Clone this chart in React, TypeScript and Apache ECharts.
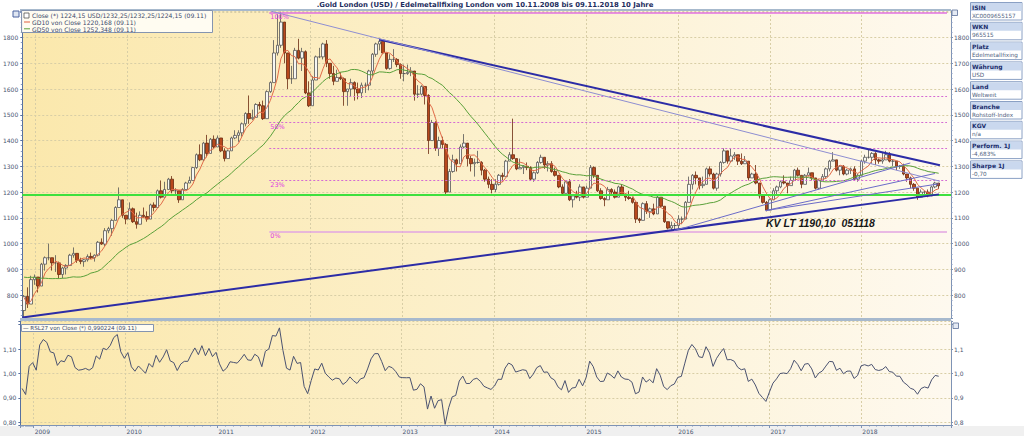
import React, { useEffect, useRef } from 'react';
import * as echarts from 'echarts';

// ---------- data (biweekly candles, London fixing, USD) ----------
const seedCloses = [800, 790, 800, 835, 890, 925, 905, 945, 975, 935, 915, 885, 870, 905, 885, 905, 960, 925, 860, 825, 765, 875, 900, 790, 730, 740];
const firstOpen = 740;

const closes = [
  795, 765, 860, 870,
  835, 920, 945, 945, 925, 925, 880, 905, 915, 955, 962, 935, 930, 937, 950, 945, 955, 1005, 998, 1050, 1058, 1090, 1140, 1170, 1110, 1095,
  1135, 1085, 1075, 1110, 1105, 1095, 1150, 1140, 1205, 1180, 1210, 1250, 1205, 1205, 1170, 1210, 1235, 1245, 1295, 1345, 1325, 1390, 1350, 1405, 1375, 1410,
  1360, 1330, 1360, 1410, 1420, 1430, 1465, 1505, 1485, 1490, 1540, 1535, 1485, 1590, 1625, 1740, 1770, 1860, 1740, 1640, 1640, 1750, 1720, 1745, 1585, 1535,
  1635, 1725, 1725, 1775, 1700, 1660, 1630, 1645, 1640, 1590, 1600, 1625, 1600, 1585, 1615, 1615, 1670, 1735, 1775, 1785, 1740, 1680, 1715, 1715, 1695, 1660,
  1660, 1665, 1670, 1580, 1580, 1610, 1575, 1400, 1470, 1370, 1400, 1385, 1200, 1280, 1325, 1310, 1375, 1390, 1330, 1310, 1315, 1315, 1285, 1250, 1230, 1210,
  1230, 1265, 1260, 1320, 1345, 1330, 1290, 1295, 1300, 1295, 1250, 1275, 1315, 1335, 1305, 1310, 1280, 1265, 1220, 1195, 1240, 1170, 1185, 1180, 1220, 1180,
  1215, 1295, 1265, 1205, 1175, 1170, 1210, 1200, 1180, 1220, 1190, 1180, 1175, 1160, 1095, 1090, 1155, 1125, 1135, 1115, 1180, 1145, 1085, 1060, 1070, 1070,
  1095, 1095, 1160, 1230, 1265, 1255, 1225, 1230, 1290, 1270, 1215, 1270, 1315, 1360, 1320, 1340, 1345, 1320, 1310, 1320, 1255, 1270, 1235, 1185, 1160, 1130,
  1170, 1205, 1220, 1240, 1235, 1225, 1245, 1285, 1265, 1230, 1265, 1275, 1255, 1215, 1245, 1260, 1290, 1320, 1325, 1285, 1300, 1270, 1285, 1290, 1250, 1265,
  1320, 1335, 1335, 1350, 1325, 1320, 1325, 1345, 1320, 1320, 1300, 1300, 1270, 1255, 1230, 1215, 1180, 1200, 1200, 1185, 1220, 1235, 1224.15,
];

const highs = [
  800, 830, 875, 880,
  870, 925, 950, 1000, 945, 955, 930, 910, 920, 960, 985, 960, 945, 940, 958, 965, 958, 1010, 1020, 1060, 1065, 1095, 1145, 1218, 1165, 1110,
  1160, 1140, 1120, 1125, 1140, 1125, 1155, 1160, 1210, 1245, 1240, 1255, 1262, 1215, 1200, 1215, 1240, 1260, 1298, 1350, 1385, 1395, 1422, 1410, 1420, 1420,
  1410, 1370, 1365, 1415, 1440, 1440, 1470, 1510, 1575, 1520, 1545, 1550, 1555, 1595, 1630, 1790, 1890, 1900, 1860, 1680, 1690, 1760, 1795, 1760, 1750, 1630,
  1650, 1730, 1760, 1780, 1790, 1700, 1690, 1675, 1665, 1645, 1600, 1640, 1630, 1625, 1625, 1625, 1675, 1740, 1780, 1795, 1780, 1730, 1735, 1755, 1720, 1700,
  1695, 1695, 1685, 1670, 1615, 1615, 1610, 1580, 1480, 1475, 1415, 1415, 1390, 1290, 1345, 1330, 1385, 1425, 1385, 1340, 1330, 1360, 1320, 1290, 1260, 1250,
  1250, 1270, 1275, 1325, 1355, 1485, 1330, 1330, 1305, 1315, 1300, 1280, 1320, 1345, 1330, 1320, 1320, 1295, 1260, 1230, 1245, 1250, 1190, 1205, 1230, 1220,
  1225, 1305, 1300, 1245, 1215, 1180, 1220, 1215, 1210, 1225, 1230, 1195, 1205, 1180, 1160, 1100, 1160, 1165, 1140, 1155, 1185, 1180, 1140, 1085, 1085, 1080,
  1110, 1105, 1165, 1260, 1270, 1280, 1255, 1260, 1295, 1300, 1275, 1275, 1320, 1370, 1360, 1370, 1355, 1345, 1350, 1340, 1320, 1275, 1305, 1230, 1190, 1165,
  1175, 1215, 1225, 1245, 1265, 1235, 1260, 1290, 1295, 1260, 1270, 1295, 1275, 1255, 1250, 1270, 1295, 1325, 1355, 1320, 1305, 1305, 1290, 1295, 1300, 1270,
  1325, 1345, 1365, 1355, 1355, 1330, 1355, 1360, 1355, 1325, 1320, 1305, 1310, 1270, 1260, 1235, 1215, 1210, 1205, 1210, 1225, 1240, 1235,
];

const lows = [
  712, 750, 770, 840,
  810, 840, 895, 935, 895, 890, 865, 865, 880, 915, 945, 925, 920, 910, 930, 940, 930, 950, 995, 990, 1040, 1030, 1095, 1140, 1100, 1075,
  1100, 1080, 1058, 1090, 1100, 1085, 1105, 1125, 1145, 1175, 1185, 1215, 1195, 1190, 1158, 1180, 1210, 1235, 1245, 1290, 1320, 1320, 1335, 1350, 1370, 1375,
  1355, 1319, 1330, 1360, 1405, 1395, 1415, 1455, 1465, 1480, 1495, 1520, 1480, 1490, 1585, 1630, 1730, 1760, 1700, 1600, 1620, 1640, 1715, 1670, 1580, 1530,
  1590, 1640, 1720, 1715, 1685, 1640, 1615, 1630, 1635, 1535, 1535, 1570, 1555, 1560, 1565, 1585, 1595, 1650, 1725, 1750, 1735, 1675, 1675, 1705, 1685, 1640,
  1630, 1655, 1650, 1555, 1565, 1575, 1540, 1348, 1400, 1360, 1340, 1370, 1190, 1210, 1275, 1280, 1310, 1370, 1300, 1280, 1260, 1310, 1265, 1240, 1215, 1195,
  1200, 1225, 1240, 1265, 1325, 1325, 1285, 1290, 1270, 1285, 1245, 1240, 1270, 1310, 1290, 1280, 1275, 1260, 1215, 1190, 1195, 1165, 1140, 1175, 1165, 1175,
  1180, 1220, 1255, 1200, 1170, 1145, 1175, 1185, 1175, 1180, 1185, 1165, 1170, 1155, 1080, 1080, 1090, 1115, 1100, 1110, 1120, 1140, 1080, 1055, 1050, 1050,
  1060, 1075, 1100, 1160, 1210, 1230, 1210, 1215, 1230, 1260, 1210, 1205, 1260, 1310, 1310, 1315, 1325, 1305, 1305, 1310, 1245, 1255, 1230, 1175, 1155, 1125,
  1130, 1170, 1185, 1215, 1230, 1195, 1225, 1245, 1260, 1215, 1230, 1260, 1245, 1210, 1210, 1245, 1255, 1280, 1320, 1280, 1265, 1265, 1265, 1270, 1245, 1240,
  1265, 1310, 1330, 1310, 1305, 1310, 1310, 1325, 1315, 1300, 1285, 1290, 1265, 1240, 1215, 1205, 1170, 1180, 1190, 1180, 1185, 1215, 1212,
];

// Fibonacci retracement levels (0% .. 100%)
const fibLevels = [1045, 1246, 1370, 1471, 1571, 1897];
const fibLabels = ['0%', '23%', '', '50%', '', '100%'];
const fibFrom = '2011-07-20';
const fibTo = '2018-12-07';

const supportLevel = 1190.1;

// trend lines: start / end [date, price]
const trendFrom: [string, number][] = [
  ['2008-11-09', 713], ['2012-09-29', 1792], ['2011-07-28', 1902],
  ['2015-12-17', 1050], ['2016-12-15', 1128], ['2016-12-15', 1128],
];
const trendTo: [string, number][] = [
  ['2018-11-05', 1191], ['2018-11-09', 1304], ['2018-11-09', 1242],
  ['2018-07-14', 1313], ['2018-10-20', 1272], ['2018-11-05', 1232],
];
const trendMajor = [true, true, false, false, false, false];

const title = '.Gold London (USD) / Edelmetallfixing London vom 10.11.2008 bis 09.11.2018 10 Jahre';
const legendTexts = [
  'Close (*) 1224,15 USD/1232,25/1232,25/1224,15 (09.11)',
  'GD10 von Close 1220,168 (09.11)',
  'GD50 von Close 1252,348 (09.11)',
];
const rslLegend = '— RSL27 von Close (*) 0,990224 (09.11)';
const annotation = 'KV LT 1190,10  051118';
const infoHeaders = ['ISIN', 'WKN', 'Platz', 'Währung', 'Land', 'Branche', 'KGV', 'Perform. 1J', 'Sharpe 1J'];
const infoValues = ['XC0009655157', '965515', 'Edelmetallfixing', 'USD', 'Weltweit', 'Rohstoff-Index', 'n/a', '-4,683%', '-0,70'];

// ---------- helpers ----------
const DAY = 86400000;
const d = (s: string) => {
  const [y, m, dd] = s.split('-').map(Number);
  return new Date(y, m - 1, dd).getTime();
};
const startT = new Date(2008, 10, 10).getTime();
const candleTime = (k: number) => startT + (14 * k + 6) * DAY;
const xMin = new Date(2008, 10, 9).getTime();
const xMax = new Date(2018, 11, 23).getTime();

const allCloses = seedCloses.concat(closes);
function sma(n: number) {
  return closes.map((_, k) => {
    const end = k + seedCloses.length;
    let s = 0;
    for (let j = end - n + 1; j <= end; j++) s += allCloses[j];
    return s / n;
  });
}

const FONT = 'DejaVu Sans';

export default function App() {
  const ref = useRef<HTMLDivElement>(null);
  useEffect(() => {
    if (!ref.current) return;
    const chart = echarts.init(ref.current, undefined, { renderer: 'svg' });

    const candles = closes.map((c, k) => {
      const o = k === 0 ? firstOpen : closes[k - 1];
      return [candleTime(k), o, c, Math.min(lows[k], o, c), Math.max(highs[k], o, c)];
    });
    const gd10 = sma(5);
    const gd50 = sma(25);
    const sma27 = sma(14);
    const rsl = closes.map((c, k) => [candleTime(k), c / sma27[k]]);

    const fibLines = fibLevels.map((v, i) => {
      const solid = i === 0 || i === fibLevels.length - 1;
      return [
        {
          coord: [d(fibFrom), v],
          lineStyle: {
            color: i === 0 ? '#e2a4e2' : solid ? '#e070e0' : '#d46ad4',
            width: solid ? 1.5 : 1,
            type: solid ? 'solid' : [2, 2],
          },
          label: {
            show: fibLabels[i] !== '',
            formatter: fibLabels[i],
            position: 'insideStartBottom',
            distance: 1,
            color: '#e040e0',
            fontSize: 6.5,
            fontFamily: FONT,
          },
        },
        { coord: [d(fibTo), v] },
      ];
    });
    const trendLines = trendFrom.map((f, i) => [
      {
        coord: [d(f[0]), f[1]],
        lineStyle: {
          color: trendMajor[i] ? '#2c2ca6' : i === 2 ? '#8e8ed2' : '#6b6bc8',
          width: trendMajor[i] ? 2 : 1,
          type: 'solid',
        },
      },
      { coord: [d(trendTo[i][0]), trendTo[i][1]] },
    ]);

    const axisLabelColor = '#4a5670';
    const gridBg = new echarts.graphic.LinearGradient(0, 0, 1, 0, [
      { offset: 0, color: '#fbe8ac' },
      { offset: 0.5, color: '#fcf0cc' },
      { offset: 1, color: '#fef9ef' },
    ]);
    const yearFmt = (v: number) => {
      const dt = new Date(v);
      return dt.getMonth() === 0 && dt.getDate() === 1 ? String(dt.getFullYear()) : '';
    };
    const splitDash = { show: true, lineStyle: { type: [2, 2], color: '#d8cea6', width: 1 } };

    const g: any[] = [];
    g.push({ type: 'rect', shape: { x: 20, y: 9, width: 931, height: 2 }, style: { fill: '#a7b9cd' }, z: 100 });
    g.push({ type: 'rect', shape: { x: 20, y: 318, width: 931, height: 3 }, style: { fill: '#a7b9cd' }, z: 100 });
    g.push({
      type: 'text', x: 485, y: 5, z: 100,
      style: { text: title, fontSize: 6.9, fontWeight: 'bold', fontFamily: FONT, fill: '#1d2d5e', align: 'center', verticalAlign: 'middle', textAlign: 'center', textVerticalAlign: 'middle' },
    });
    // legend box
    g.push({ type: 'rect', shape: { x: 13, y: 11, width: 6, height: 6 }, style: { fill: '#dfe6f2', stroke: '#4a62a0', lineWidth: 1 }, z: 100 });
    g.push({ type: 'rect', shape: { x: 21.5, y: 10.5, width: 191, height: 22 }, style: { fill: 'rgba(255,253,246,0.92)', stroke: '#8494b0', lineWidth: 1 }, z: 100 });
    g.push({ type: 'rect', shape: { x: 24, y: 13, width: 5, height: 5 }, style: { fill: '#ffffff', stroke: '#555', lineWidth: 0.8 }, z: 101 });
    g.push({ type: 'line', shape: { x1: 24, y1: 22, x2: 30, y2: 22 }, style: { stroke: '#e06040', lineWidth: 1 }, z: 101 });
    g.push({ type: 'line', shape: { x1: 24, y1: 28.8, x2: 30, y2: 28.8 }, style: { stroke: '#5aa03a', lineWidth: 1 }, z: 101 });
    legendTexts.forEach((t, i) => {
      g.push({
        type: 'text', x: 32, y: 15.4 + i * 6.8, z: 101,
        style: { text: t, fontSize: 6.1, fontFamily: FONT, fill: '#3b4a6b', align: 'left', verticalAlign: 'middle', textAlign: 'left', textVerticalAlign: 'middle' },
      });
    });
    // rsl legend
    g.push({ type: 'rect', shape: { x: 21.5, y: 324.5, width: 132, height: 7 }, style: { fill: 'rgba(255,253,246,0.92)', stroke: '#8494b0', lineWidth: 1 }, z: 100 });
    g.push({
      type: 'text', x: 23, y: 328, z: 101,
      style: { text: rslLegend, fontSize: 5.6, fontFamily: FONT, fill: '#3b4a6b', align: 'left', verticalAlign: 'middle', textAlign: 'left', textVerticalAlign: 'middle' },
    });
    // small panel icons
    g.push({ type: 'rect', shape: { x: 952, y: 10, width: 5.5, height: 5.5 }, style: { fill: '#e4eaf4', stroke: '#5a6e98', lineWidth: 0.8 }, z: 100 });
    g.push({ type: 'rect', shape: { x: 953, y: 323, width: 5.5, height: 5.5 }, style: { fill: '#e4eaf4', stroke: '#5a6e98', lineWidth: 0.8 }, z: 100 });
    // annotation
    g.push({
      type: 'text', x: 766, y: 223, z: 100,
      style: { text: annotation, fontSize: 10.5, fontWeight: 'bold', fontStyle: 'italic', fontFamily: 'Liberation Sans', fill: '#161616', align: 'left', verticalAlign: 'middle', textAlign: 'left', textVerticalAlign: 'middle' },
    });
    // info boxes
    infoHeaders.forEach((h, i) => {
      const top = 2.5 + 19.8 * i;
      g.push({ type: 'rect', shape: { x: 970.5, y: top, width: 51.5, height: 17.5 }, style: { fill: '#ffffff', stroke: '#8aa0c4', lineWidth: 1 }, z: 100 });
      g.push({ type: 'rect', shape: { x: 971, y: top + 0.5, width: 50.5, height: 8 }, style: { fill: '#cad8ee' }, z: 100 });
      g.push({
        type: 'text', x: 972, y: top + 4.5, z: 101,
        style: { text: h, fontSize: 6, fontWeight: 'bold', fontFamily: FONT, fill: '#1c2f6c', align: 'left', verticalAlign: 'middle', textAlign: 'left', textVerticalAlign: 'middle' },
      });
      g.push({
        type: 'text', x: 972, y: top + 13, z: 101,
        style: { text: infoValues[i], fontSize: 5.7, fontFamily: FONT, fill: '#4e5e7e', align: 'left', verticalAlign: 'middle', textAlign: 'left', textVerticalAlign: 'middle' },
      });
    });

    const option: any = {
      animation: false,
      textStyle: { fontFamily: FONT },
      grid: [
        { left: 20, top: 11, width: 931, height: 307, show: true, backgroundColor: gridBg, borderWidth: 0 },
        { left: 20, top: 321, width: 931, height: 104, show: true, backgroundColor: gridBg, borderWidth: 0 },
      ],
      xAxis: [
        {
          type: 'time', gridIndex: 0, min: xMin, max: xMax, splitNumber: 10, minInterval: 360 * DAY,
          axisLabel: { show: false }, axisTick: { show: false }, axisLine: { show: false },
          splitLine: splitDash,
        },
        {
          type: 'time', gridIndex: 1, min: xMin, max: xMax, splitNumber: 10, minInterval: 360 * DAY,
          axisLabel: { formatter: yearFmt, fontSize: 6, color: axisLabelColor, align: 'left', margin: 3, padding: [0, 0, 0, 1], fontFamily: FONT },
          axisTick: { show: true, length: 3, lineStyle: { color: '#7e93b5' } },
          minorTick: { show: true, splitNumber: 12, length: 1.5, lineStyle: { color: '#7e93b5' } },
          axisLine: { show: true, lineStyle: { color: '#7e93b5' } },
          splitLine: splitDash,
        },
      ],
      yAxis: [
        {
          type: 'value', gridIndex: 0, min: 711, max: 1903, splitNumber: 12, position: 'left',
          axisLine: { show: true, lineStyle: { color: '#5670a0' } },
          axisTick: { show: true, length: 2, lineStyle: { color: '#5670a0' } },
          minorTick: { show: true, splitNumber: 5, length: 1.5, lineStyle: { color: '#8a9cc0' } },
          splitLine: splitDash,
          axisLabel: { fontSize: 6, color: axisLabelColor, margin: 4, fontFamily: FONT, formatter: (v: number) => (Math.abs(v % 100) < 0.01 && v < 1850 ? String(v) : '') },
        },
        {
          type: 'value', gridIndex: 0, min: 711, max: 1903, splitNumber: 12, position: 'right',
          axisLine: { show: true, lineStyle: { color: '#7e93b5' } },
          axisTick: { show: true, length: 2, lineStyle: { color: '#7e93b5' } },
          minorTick: { show: true, splitNumber: 5, length: 1.5, lineStyle: { color: '#8a9cc0' } },
          splitLine: { show: false },
          axisLabel: { fontSize: 6, color: axisLabelColor, margin: 3, fontFamily: FONT, formatter: (v: number) => (Math.abs(v % 100) < 0.01 && v < 1850 ? String(v) : '') },
        },
        {
          type: 'value', gridIndex: 1, min: 0.789, max: 1.215, splitNumber: 4, position: 'left',
          axisLine: { show: true, lineStyle: { color: '#5670a0' } },
          axisTick: { show: true, length: 2, lineStyle: { color: '#5670a0' } },
          splitLine: splitDash,
          axisLabel: { fontSize: 6, color: axisLabelColor, margin: 4, fontFamily: FONT, formatter: (v: number) => (v < 0.795 || v > 1.15 ? '' : v.toFixed(2).replace('.', ',')) },
        },
        {
          type: 'value', gridIndex: 1, min: 0.789, max: 1.215, splitNumber: 4, position: 'right',
          axisLine: { show: true, lineStyle: { color: '#7e93b5' } },
          axisTick: { show: true, length: 2, lineStyle: { color: '#7e93b5' } },
          splitLine: { show: false },
          axisLabel: { fontSize: 6, color: axisLabelColor, margin: 3, fontFamily: FONT, formatter: (v: number) => (v < 0.795 || v > 1.15 ? '' : v.toFixed(1).replace('.', ',')) },
        },
      ],
      series: [
        {
          type: 'candlestick', name: 'Close', xAxisIndex: 0, yAxisIndex: 0, data: candles, barWidth: 3,
          itemStyle: { color: '#f6f6f2', color0: '#b8481c', borderColor: '#555555', borderColor0: '#6a2a10', borderWidth: 0.8 },
          markLine: {
            silent: true, symbol: ['none', 'none'], animation: false,
            label: { show: false },
            data: [
              ...fibLines,
              { yAxis: supportLevel, lineStyle: { color: '#3ee03e', width: 2, type: 'solid' }, label: { show: false } },
              ...trendLines,
            ],
          },
        },
        {
          type: 'line', name: 'GD10', xAxisIndex: 0, yAxisIndex: 0, showSymbol: false,
          data: gd10.map((v, k) => [candleTime(k), v]), lineStyle: { color: '#e06a48', width: 1 }, z: 3,
        },
        {
          type: 'line', name: 'GD50', xAxisIndex: 0, yAxisIndex: 0, showSymbol: false,
          data: gd50.map((v, k) => [candleTime(k), v]), lineStyle: { color: '#5aa03a', width: 1 }, z: 3,
        },
        {
          type: 'line', name: 'RSL27', xAxisIndex: 1, yAxisIndex: 2, showSymbol: false,
          data: rsl, lineStyle: { color: '#4a5270', width: 1 },
        },
      ],
      graphic: { elements: g },
    };
    chart.setOption(option);
    return () => chart.dispose();
  }, []);

  return (
    <div
      ref={ref}
      style={{
        position: 'fixed', left: 0, top: 0, width: 1024, height: 436,
        background: 'linear-gradient(#ffffff 0px, #ffffff 426px, #f0f0f0 426px)',
      }}
    />
  );
}
